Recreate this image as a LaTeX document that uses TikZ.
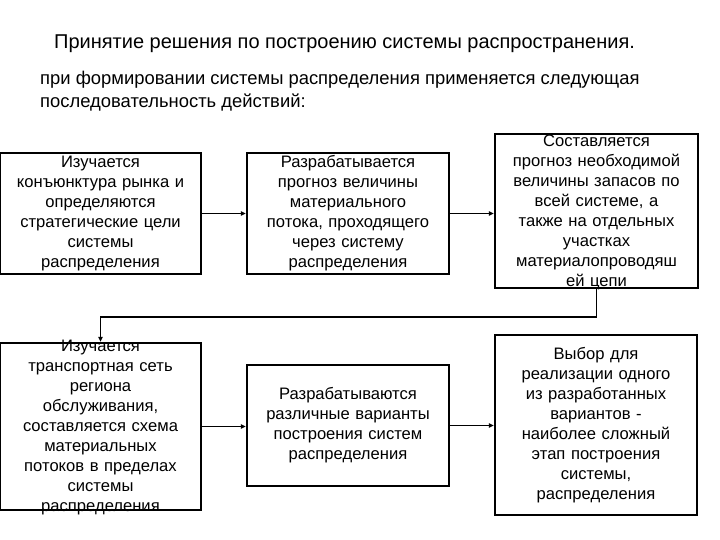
\documentclass[tikz,border=0pt]{standalone}
\usepackage{fontspec}
\setmainfont{Liberation Sans}
\usetikzlibrary{arrows.meta}
\tikzset{
  box/.style={draw=black, line width=2.4pt, minimum width=#1, inner sep=0pt},
  boxh/.style={minimum height=#1},
  txt/.style={align=center, text width=200pt, inner sep=0pt, font=\fontsize{16.6}{20}\selectfont},
  arr/.style={draw=black, line width=1.6pt, -{Triangle[length=5pt,width=4.5pt]}},
}
\begin{document}
\begin{tikzpicture}[x=1pt,y=-1pt]
\useasboundingbox (0,0) rectangle (720,540);
\node[font=\fontsize{20}{23}\selectfont] (title) at (344.5,44) {Принятие решения по построению системы распространения.};
\node[anchor=west, align=left, inner sep=0pt, font=\fontsize{18.4}{22.5}\selectfont] (sub) at (40,91) {при формировании системы распределения применяется следующая\\последовательность действий:};

\node[box=201pt, boxh=121pt] (b1) at (100.5,213.5) {};
\node[txt] (t1) at (b1) {Изучается\\конъюнктура рынка и\\определяются\\стратегические цели\\системы\\распределения};
\node[box=202pt, boxh=121pt] (b2) at (348,213.5) {};
\node[txt] (t2) at (b2) {Разрабатывается\\прогноз величины\\материального\\потока, проходящего\\через систему\\распределения};
\node[box=203pt, boxh=154pt] (b3) at (596.5,211) {};
\node[txt] (t3) at ([yshift=-1pt]b3) {Составляется\\прогноз необходимой\\величины запасов по\\всей системе, а\\также на отдельных\\участках\\материалопроводяш\\ей цепи};
\node[box=201pt, boxh=167pt] (b4) at (100.5,426.5) {};
\node[txt] (t4) at ([yshift=-1pt]b4) {Изучается\\транспортная сеть\\региона\\обслуживания,\\составляется схема\\материальных\\потоков в пределах\\системы\\распределения};
\node[box=202pt, boxh=121pt] (b5) at (348,425.5) {};
\node[txt] (t5) at (b5) {Разрабатываются\\различные варианты\\построения систем\\распределения};
\node[box=202pt, boxh=180pt] (b6) at (596,425) {};
\node[txt] (t6) at (b6) {Выбор для\\реализации одного\\из разработанных\\вариантов -\\наиболее сложный\\этап построения\\системы,\\распределения};

\coordinate (turn) at (596.5,317);
\draw[arr] (b1.east) -- (b1.east -| b2.west);
\draw[arr] (b2.east) -- (b2.east -| b3.west);
\draw[arr] (b3.south) -- (turn) -| (b4.north);
\draw[arr] (b4.east) -- (b4.east -| b5.west);
\draw[arr] (b5.east) -- (b5.east -| b6.west);
\end{tikzpicture}
\end{document}
